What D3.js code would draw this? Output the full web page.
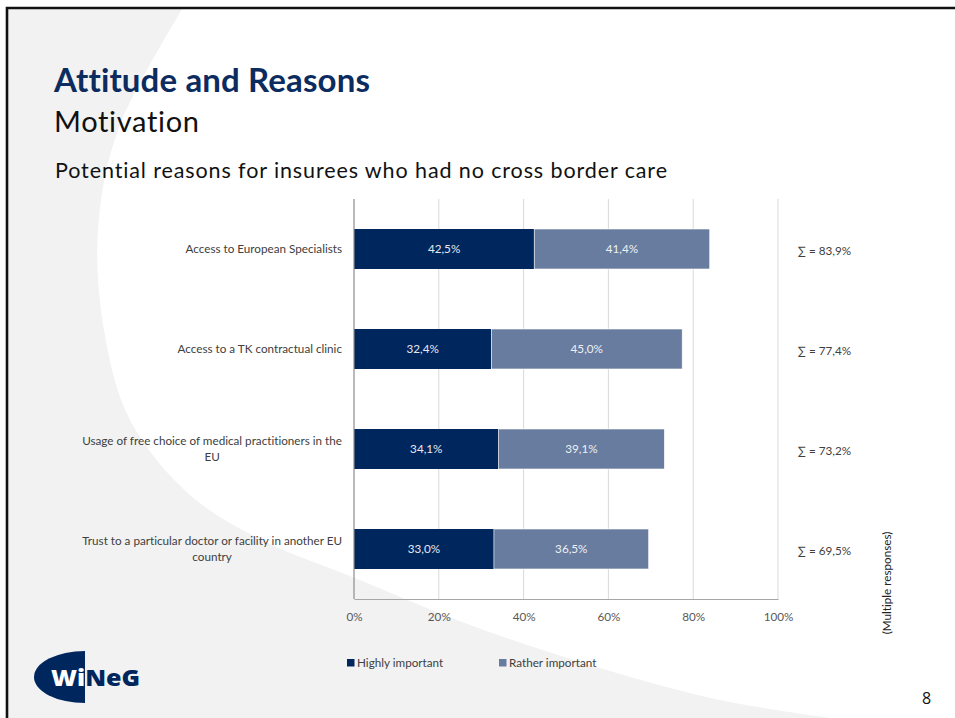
<!DOCTYPE html>
<html>
<head>
<meta charset="utf-8">
<script src="https://cdn.jsdelivr.net/npm/d3@7"></script>
<style>
  html, body { margin: 0; padding: 0; background: #fff; }
  svg { display: block; }
  svg text { font-variant-ligatures: none; font-feature-settings: "liga" 0, "clig" 0; }
</style>
</head>
<body>
<svg id="chart" width="955" height="718"></svg>
<script>
// ---------- data ----------
const categories = [
  "Access to European Specialists",
  "Access to a TK contractual clinic",
  "Usage of free choice of medical practitioners in the EU",
  "Trust to a particular doctor or facility in another EU country"
];
const highlyImportant = [42.5, 32.4, 34.1, 33.0];
const ratherImportant = [41.4, 45.0, 39.1, 36.5];
const totals = [83.9, 77.4, 73.2, 69.5];
const seriesNames = ["Highly important", "Rather important"];
const xTicks = [0, 20, 40, 60, 80, 100];
const titleText = "Attitude and Reasons";
const subtitleText = "Motivation";
const chartTitleText = "Potential reasons for insurees who had no cross border care";
const noteText = "(Multiple responses)";
const pageNumber = "8";

// ---------- styles ----------
const navy = "#00265e";
const lightBlue = "#687c9f";
const titleColor = "#0c2c60";
const textColor = "#404040";
const axisTextColor = "#595959";
const font = "Lato, 'Open Sans', sans-serif";
const fs = 11.7;
const fmt = v => d3.format(".1f")(v).replace(".", ",") + "%";

const svg = d3.select("#chart");

// ---------- slide background ----------
svg.append("rect").attr("width", 955).attr("height", 718).attr("fill", "#fff");
const swoosh = [[183,8],[118,130],[98,230],[104,330],[130,420],[190,495],[262,540],[355,578],[470,625],[600,668],[720,700],[830,718]];
const curve = d3.line().curve(d3.curveCatmullRom)(swoosh);
svg.append("path")
  .attr("d", "M8,8 L183,8 " + curve.replace(/^M[^CL]*/, "L183,8") + " L8,718 Z")
  .attr("fill", "#f2f2f2");
svg.append("path").attr("d", "M7,718 L7,8 L955,8")
  .attr("fill", "none").attr("stroke", "#111").attr("stroke-width", 2.6);

// ---------- headings ----------
function fitText(sel, w) {
  const n = sel.node();
  const len = n.getComputedTextLength();
  if (Math.abs(len - w) > 1) sel.attr("textLength", w).attr("lengthAdjust", "spacing");
}
fitText(svg.append("text").attr("x", 54).attr("y", 92)
  .attr("font-family", font).attr("font-weight", 700).attr("font-size", 33)
  .attr("fill", titleColor).text(titleText), 316);
fitText(svg.append("text").attr("x", 54).attr("y", 132)
  .attr("font-family", font).attr("font-size", 29)
  .attr("fill", "#111").text(subtitleText), 145);
fitText(svg.append("text").attr("x", 55).attr("y", 178)
  .attr("font-family", font).attr("font-size", 21.5)
  .attr("fill", "#111").text(chartTitleText), 612);

// ---------- chart ----------
const x = d3.scaleLinear().domain([0, 100]).range([354, 778]);
const y = d3.scaleBand().domain(categories).range([199, 599]).paddingInner(0.6).paddingOuter(0.3);

const g = svg.append("g");

// gridlines
g.append("g").selectAll("line").data(xTicks.filter(d => d > 0)).join("line")
  .attr("x1", d => x(d)).attr("x2", d => x(d))
  .attr("y1", 199).attr("y2", 599)
  .attr("stroke", "#d9d9d9").attr("stroke-width", 1);

// bars
const rows = categories.map((c, i) => ({ c, h: highlyImportant[i], r: ratherImportant[i], t: totals[i] }));
g.append("g").selectAll("rect").data(rows).join("rect")
  .attr("x", x(0)).attr("y", d => y(d.c))
  .attr("width", d => x(d.h) - x(0)).attr("height", y.bandwidth())
  .attr("fill", navy);
g.append("g").selectAll("rect").data(rows).join("rect")
  .attr("x", d => x(d.h)).attr("y", d => y(d.c))
  .attr("width", d => x(d.h + d.r) - x(d.h)).attr("height", y.bandwidth())
  .attr("fill", lightBlue).attr("stroke", "#fff").attr("stroke-width", 0.6);

// value labels
g.append("g").selectAll("text").data(rows).join("text")
  .attr("x", d => x(d.h / 2)).attr("y", d => y(d.c) + y.bandwidth() / 2 + 4)
  .attr("text-anchor", "middle").attr("font-family", font).attr("font-size", fs)
  .attr("fill", "#e6e9ef").text(d => fmt(d.h));
g.append("g").selectAll("text").data(rows).join("text")
  .attr("x", d => x(d.h + d.r / 2)).attr("y", d => y(d.c) + y.bandwidth() / 2 + 4)
  .attr("text-anchor", "middle").attr("font-family", font).attr("font-size", fs)
  .attr("fill", "#eef0f4").text(d => fmt(d.r));

// x axis
const xAxis = d3.axisBottom(x).tickValues(xTicks).tickFormat(d => d + "%").tickSize(0).tickPadding(14);
const ax = g.append("g").attr("transform", "translate(0,599)").call(xAxis);
ax.select(".domain").attr("stroke", "#a6a6a6").attr("stroke-width", 1.2);
ax.selectAll("text").attr("font-family", font).attr("font-size", fs).attr("fill", axisTextColor);

// y axis line
const yAxis = d3.axisLeft(y).tickSize(0).tickFormat("");
const ay = g.append("g").attr("transform", "translate(354,0)").call(yAxis);
ay.select(".domain").attr("stroke", "#8c8c8c").attr("stroke-width", 1.2).attr("d", "M0,199V599");

// category labels (wrapped, centred block, right-aligned)
const labelRight = 342, maxW = 268, lineH = 16;
const lg = g.append("g");
rows.forEach(d => {
  const words = d.c.split(" ");
  const lines = [];
  let cur = "";
  const t = lg.append("text").attr("font-family", font).attr("font-size", fs);
  words.forEach(w => {
    const test = cur ? cur + " " + w : w;
    t.text(test);
    if (t.node().getComputedTextLength() > maxW && cur) { lines.push(cur); cur = w; }
    else cur = test;
  });
  lines.push(cur);
  let widest = 0;
  lines.forEach(l => { t.text(l); widest = Math.max(widest, t.node().getComputedTextLength()); });
  t.remove();
  const cx = labelRight - widest / 2;
  const cy = y(d.c) + y.bandwidth() / 2;
  const y0 = cy - (lines.length - 1) * lineH / 2 + 4;
  const txt = lg.append("text").attr("font-family", font).attr("font-size", fs)
    .attr("fill", textColor).attr("text-anchor", "middle");
  lines.forEach((l, i) => txt.append("tspan").attr("x", cx).attr("y", y0 + i * lineH).text(l));
});

// totals
g.append("g").selectAll("text").data(rows).join("text")
  .attr("x", 798).attr("y", d => y(d.c) + y.bandwidth() / 2 + 6)
  .attr("font-family", font).attr("font-size", fs).attr("fill", textColor)
  .text(d => "∑ = " + fmt(d.t));

// multiple responses note
svg.append("text").attr("transform", "translate(891,583) rotate(-90)")
  .attr("text-anchor", "middle").attr("font-family", font).attr("font-size", fs)
  .attr("fill", "#222").text(noteText);

// legend
const legendColors = [navy, lightBlue];
const legendX = [347, 499];
const leg = svg.append("g").selectAll("g").data(seriesNames).join("g")
  .attr("transform", (d, i) => `translate(${legendX[i]},659)`);
leg.append("rect").attr("width", 7.5).attr("height", 7.5).attr("fill", (d, i) => legendColors[i]);
leg.append("text").attr("x", 10).attr("y", 8).attr("font-family", font).attr("font-size", fs)
  .attr("fill", textColor).text(d => d);

// page number
svg.append("text").attr("x", 922).attr("y", 704).attr("font-family", "'Open Sans', sans-serif")
  .attr("font-size", 16).attr("fill", "#111").text(pageNumber);

// logo
const defs = svg.append("defs");
defs.append("clipPath").attr("id", "halfEllipse")
  .append("path").attr("d", "M85,651 A51,26 0 0 0 85,703 Z");
svg.append("path").attr("d", "M85,651 A51,26 0 0 0 85,703 Z").attr("fill", navy);
const logoText = "WiNeG";
svg.append("text").attr("x", 51).attr("y", 686).attr("font-family", "'Open Sans', sans-serif")
  .attr("font-weight", 800).attr("font-size", 22).attr("fill", navy)
  .attr("textLength", 89).attr("lengthAdjust", "spacingAndGlyphs").text(logoText);
svg.append("text").attr("x", 51).attr("y", 686).attr("font-family", "'Open Sans', sans-serif")
  .attr("font-weight", 800).attr("font-size", 22).attr("fill", "#fff")
  .attr("textLength", 89).attr("lengthAdjust", "spacingAndGlyphs")
  .attr("clip-path", "url(#halfEllipse)").text(logoText);
</script>
</body>
</html>
